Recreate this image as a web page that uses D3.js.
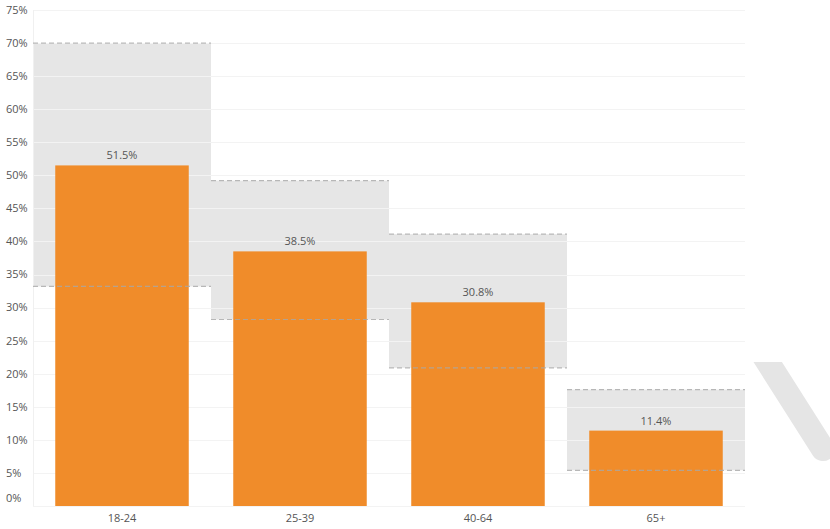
<!DOCTYPE html>
<html>
<head>
<meta charset="utf-8">
<script src="https://cdn.jsdelivr.net/npm/d3@7"></script>
<style>
  body { margin: 0; background: #fff; }
  text { font-family: "Open Sans", "Noto Sans", sans-serif; }
</style>
</head>
<body>
<svg id="svg" width="830" height="529"></svg>
<script>
const width = 830;
const height = 529;

const categories = ['18-24', '25-39', '40-64', '65+'];
const values = [51.5, 38.5, 30.8, 11.4];
const rangeLow = [33.2, 28.2, 20.9, 5.4];
const rangeHigh = [70.0, 49.2, 41.1, 17.6];
const yTicks = [0, 5, 10, 15, 20, 25, 30, 35, 40, 45, 50, 55, 60, 65, 70, 75];

const barColor = '#f08c2a';
const rangeColor = '#e6e6e6';
const dashColor = '#a8a8a8';
const textColor = '#555';

const plot = { left: 33, right: 745, top: 10, bottom: 506 };

const svg = d3.select('#svg');

const xBand = d3.scaleBand()
	.domain(categories)
	.range([plot.left, plot.right])
	.padding(0);

const xBar = d3.scaleBand()
	.domain(categories)
	.range([plot.left, plot.right])
	.paddingInner(0.25)
	.paddingOuter(0.125);

const yScale = d3.scaleLinear()
	.domain([0, 75])
	.range([plot.bottom, plot.top]);

// decorative stroke bottom right
svg.append('clipPath')
	.attr('id', 'deco-clip')
	.append('rect')
	.attr('x', 700).attr('y', 362)
	.attr('width', 130).attr('height', 167);

svg.append('line')
	.attr('clip-path', 'url(#deco-clip)')
	.attr('x1', 755).attr('y1', 342)
	.attr('x2', 823).attr('y2', 449)
	.attr('stroke', '#e5e5e5')
	.attr('stroke-width', 24)
	.attr('stroke-linecap', 'round');

// range boxes
svg.selectAll('.range')
	.data(categories)
	.enter()
	.append('rect')
	.attr('x', d => xBand(d))
	.attr('width', xBand.bandwidth())
	.attr('y', (d, i) => yScale(rangeHigh[i]))
	.attr('height', (d, i) => yScale(rangeLow[i]) - yScale(rangeHigh[i]))
	.attr('fill', rangeColor);

// grid
svg.selectAll('.grid')
	.data(yTicks)
	.enter()
	.append('line')
	.attr('x1', plot.left)
	.attr('x2', plot.right)
	.attr('y1', d => Math.round(yScale(d)) + 0.5)
	.attr('y2', d => Math.round(yScale(d)) + 0.5)
	.attr('stroke', '#f3f3f3')
	.attr('stroke-width', 1);

svg.append('line')
	.attr('x1', plot.left + 0.5).attr('x2', plot.left + 0.5)
	.attr('y1', plot.top).attr('y2', plot.bottom)
	.attr('stroke', '#f0f0f0');

// y labels
svg.selectAll('.ylab')
	.data(yTicks)
	.enter()
	.append('text')
	.attr('x', 6)
	.attr('y', d => d === 0 ? yScale(d) - 8 : yScale(d))
	.attr('dy', '0.35em')
	.attr('font-size', 11)
	.attr('fill', textColor)
	.text(d => d + '%');

// bars
svg.selectAll('.bar')
	.data(categories)
	.enter()
	.append('rect')
	.attr('x', d => xBar(d))
	.attr('width', xBar.bandwidth())
	.attr('y', (d, i) => yScale(values[i]))
	.attr('height', (d, i) => yScale(0) - yScale(values[i]))
	.attr('fill', barColor);

// dashed range edges
[rangeHigh, rangeLow].forEach(arr => {
	svg.selectAll(null)
		.data(categories)
		.enter()
		.append('line')
		.attr('x1', d => xBand(d))
		.attr('x2', d => xBand(d) + xBand.bandwidth())
		.attr('y1', (d, i) => yScale(arr[i]))
		.attr('y2', (d, i) => yScale(arr[i]))
		.attr('stroke', dashColor)
		.attr('stroke-opacity', 0.8)
		.attr('stroke-width', 1.2)
		.attr('stroke-dasharray', '5,3');
});

// value labels
svg.selectAll('.val')
	.data(categories)
	.enter()
	.append('text')
	.attr('x', d => xBar(d) + xBar.bandwidth() / 2)
	.attr('y', (d, i) => yScale(values[i]) - 6)
	.attr('text-anchor', 'middle')
	.attr('font-size', 11)
	.attr('fill', textColor)
	.text((d, i) => values[i].toFixed(1) + '%');

// x labels
svg.selectAll('.xlab')
	.data(categories)
	.enter()
	.append('text')
	.attr('x', d => xBand(d) + xBand.bandwidth() / 2)
	.attr('y', 518)
	.attr('dy', '0.35em')
	.attr('text-anchor', 'middle')
	.attr('font-size', 11)
	.attr('fill', textColor)
	.text(d => d);
</script>
</body>
</html>
